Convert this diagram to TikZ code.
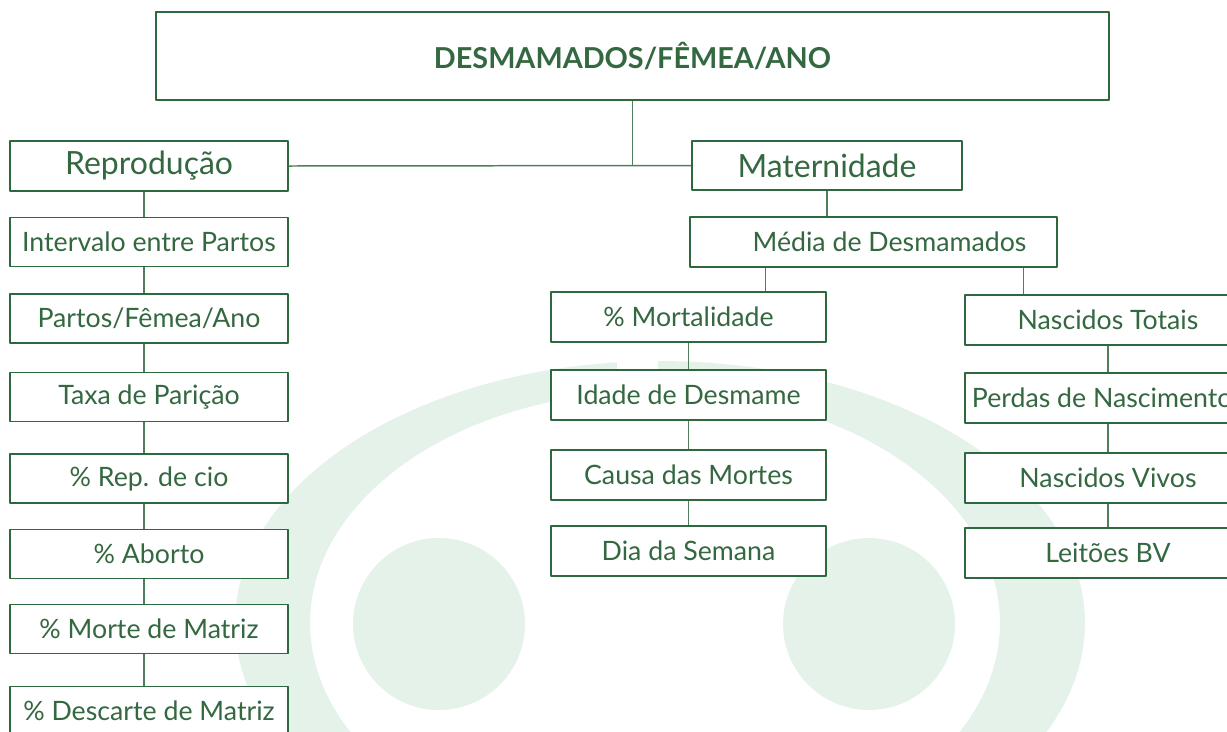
\documentclass[tikz,border=0pt]{standalone}
\usepackage{fontspec}
\setmainfont{Lato}
\usetikzlibrary{calc}
\definecolor{verde}{RGB}{46,104,62}
\definecolor{verdetxt}{RGB}{52,104,64}
\definecolor{fundo}{RGB}{229,242,234}
\begin{document}
\begin{tikzpicture}[x=0.02cm, y=-0.02cm, line join=round,
	caixa/.style={draw=verde, line width=0.9pt, fill=white, text=verdetxt, inner sep=0pt, font=\fontsize{15.2}{18}\selectfont},
	titulo/.style={caixa, minimum width=19.06cm, minimum height=1.76cm, font=\fontsize{16.4}{20}\selectfont\bfseries},
	grupo/.style={caixa, minimum height=0.99cm, font=\fontsize{18.2}{22}\selectfont},
	esq/.style={caixa, minimum width=5.56cm, minimum height=0.98cm},
	meio/.style={caixa, minimum width=5.5cm, minimum height=1cm},
	dir/.style={caixa, minimum width=5.72cm, minimum height=1cm},
	linha/.style={draw=verde!85!white, line width=0.85pt}]
	\useasboundingbox (0,0) rectangle (1227,731);
	\clip (0,0) rectangle (1227,731);
	% fundo
	\fill[fundo, even odd rule] (660,623) ellipse [x radius=8.5cm, y radius=5.24cm] (655,623) ellipse [x radius=6.9cm, y radius=4.64cm];
	\fill[white] (617,340) rectangle (658,430);
	\fill[fundo] (439,624) circle [radius=1.72cm];
	\fill[fundo] (869,624) circle [radius=1.72cm];
	% caixas
	\node[titulo] (topo) at (632.5,56) {DESMAMADOS/FÊMEA/ANO};
	\node[grupo, minimum width=5.56cm] (repro) at (149,166) {Reprodução};
	\node[grupo, minimum width=5.4cm] (mat) at (827,165.5) {Maternidade};
	\node[esq] (e1) at (149,242) {Intervalo entre Partos};
	\node[esq] (e2) at (149,318.5) {Partos/Fêmea/Ano};
	\node[esq] (e3) at (149,397) {Taxa de Parição};
	\node[esq] (e4) at (149,478.5) {\% Rep. de cio};
	\node[esq] (e5) at (149,554) {\% Aborto};
	\node[esq] (e6) at (149,629) {\% Morte de Matriz};
	\node[esq] (e7) at (149,711) {\% Descarte de Matriz};
	\node[caixa, minimum width=7.34cm, minimum height=1cm] (med) at (873.5,242) {\hspace*{0.64cm}Média de Desmamados};
	\node[meio] (m1) at (688.5,317) {\% Mortalidade};
	\node[meio] (m2) at (688.5,395) {Idade de Desmame};
	\node[meio] (m3) at (688.5,475) {Causa das Mortes};
	\node[meio] (m4) at (688.5,551) {Dia da Semana};
	\node[dir] (d1) at (1108,320) {Nascidos Totais};
	\node[dir] (d2) at (1108,398) {Perdas de Nascimentos};
	\node[dir] (d3) at (1108,478) {Nascidos Vivos};
	\node[dir] (d4) at (1108,553) {Leitões BV};
	% ligacoes
	\draw[linha] (topo.south) -- (topo.south |- repro.east);
	\draw[linha] (repro.east) -- (mat.west);
	\draw[linha] ([xshift=-0.1cm]repro.south) -- ([xshift=-0.1cm]e1.north);
	\foreach \a/\b in {e1/e2,e2/e3,e3/e4,e4/e5,e5/e6,e6/e7}
		\draw[linha] ([xshift=-0.1cm]\a.south) -- ([xshift=-0.1cm]\b.north);
	\draw[linha] (mat.south) -- (mat.south |- med.north);
	\coordinate (mj) at ($(med.south west)+(76,0)$);
	\coordinate (dj) at ($(med.south west)+(334,0)$);
	\draw[linha] (mj) -- (mj |- m1.north);
	\draw[linha] (dj) -- (dj |- d1.north);
	\foreach \a/\b in {m1/m2,m2/m3,m3/m4,d1/d2,d2/d3,d3/d4}
		\draw[linha] (\a) -- (\b);
\end{tikzpicture}
\end{document}
